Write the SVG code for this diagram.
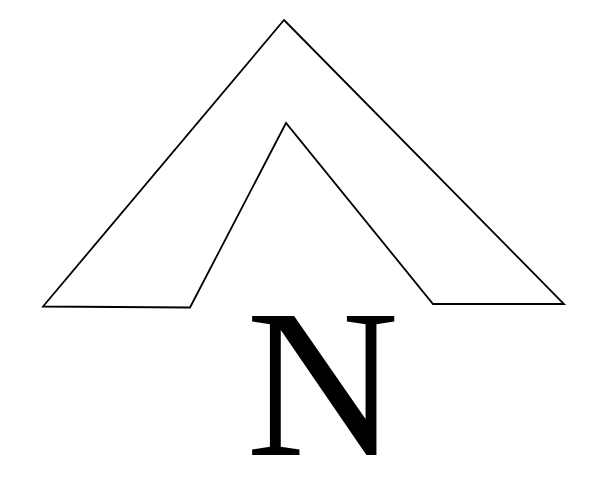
<svg xmlns="http://www.w3.org/2000/svg" width="605" height="495" viewBox="0 0 605 495">
<style>
.arrow{fill:none;stroke:#000;stroke-width:1.8;stroke-linejoin:miter}
.lbl{font-family:"Liberation Serif","Times New Roman",serif;font-size:212px;fill:#000}
</style>
<rect width="605" height="495" fill="#fff"/>
<g id="arrow">
<polygon class="arrow" points="284,20 564,304 433,304 286,123 190,307.5 43,306.5"/>
</g>
<g id="label">
<text class="lbl" x="322.5" y="455" text-anchor="middle">N</text>
</g>
</svg>
